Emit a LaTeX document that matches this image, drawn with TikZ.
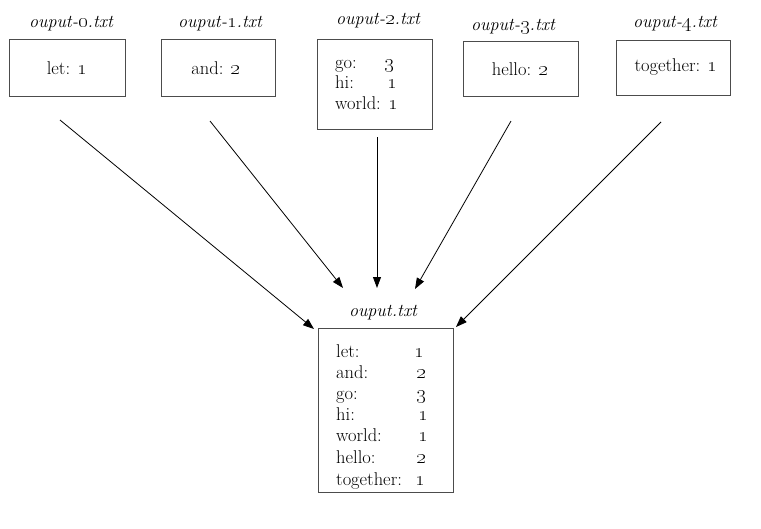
\documentclass[tikz,border=0pt]{standalone}
\usetikzlibrary{arrows.meta}
\newcommand{\osn}[1]{{\fontsize{22}{22}\selectfont\oldstylenums{#1}}}
\newcommand{\tosn}[1]{{\fontsize{20}{20}\selectfont\oldstylenums{#1}}}
\begin{document}
\begin{tikzpicture}[x=1pt,y=-1pt,
  filebox/.style={draw=black!70,line width=0.9pt},
  ttl/.style={font=\fontsize{18}{21}\selectfont\itshape,inner sep=0pt},
  txt/.style={font=\fontsize{18.5}{22}\selectfont,inner sep=0pt,anchor=base west},
  ctxt/.style={font=\fontsize{18.5}{22}\selectfont,inner sep=0pt},
  arr/.style={-{Triangle[length=11pt,width=8pt]},line width=0.8pt}]
\useasboundingbox (0,0) rectangle (761,528);
% top boxes
\draw[filebox] (9,39) rectangle (125,96);
\node[ttl] (t0) at (71,24) {ouput-\tosn{0}.txt};
\node[ctxt] (c0) at (67,68) {let: \osn{1}};
\draw[filebox] (161,39) rectangle (275,96);
\node[ttl] (t1) at (220,24) {ouput-\tosn{1}.txt};
\node[ctxt] (c1) at (216,68) {and: \osn{2}};
\draw[filebox] (317,39) rectangle (432,129);
\node[ttl] (t2) at (378,21) {ouput-\tosn{2}.txt};
\node[txt] (g2) at (335,68) {go:};
\node[txt] (g2n) at (384,68) {\osn{3}};
\node[txt] (h2) at (335,88) {hi:};
\node[txt] (h2n) at (387,88) {\osn{1}};
\node[txt] (w2) at (335,109) {world: \osn{1}};
\draw[filebox] (463,41) rectangle (578,96);
\node[ttl] (t3) at (513,27) {ouput-\tosn{3}.txt};
\node[ctxt] (c3) at (520,69) {hello: \osn{2}};
\draw[filebox] (616,40) rectangle (730,95);
\node[ttl] (t4) at (675,24) {ouput-\tosn{4}.txt};
\node[ctxt] (c4) at (676,67) {together: \osn{1}};
% output box
\draw[filebox] (318,328) rectangle (453,492);
\node[ttl] (to) at (383,313) {ouput.txt};
\node[txt] (l1) at (336,357) {let:};   \node[txt] (n1) at (414,357) {\osn{1}};
\node[txt] (l2) at (336,378) {and:};   \node[txt] (n2) at (416,378) {\osn{2}};
\node[txt] (l3) at (336,399) {go:};    \node[txt] (n3) at (416,399) {\osn{3}};
\node[txt] (l4) at (336,420) {hi:};    \node[txt] (n4) at (418,420) {\osn{1}};
\node[txt] (l5) at (336,441) {world:}; \node[txt] (n5) at (418,441) {\osn{1}};
\node[txt] (l6) at (336,463) {hello:}; \node[txt] (n6) at (416,463) {\osn{2}};
\node[txt] (l7) at (336,485) {together:}; \node[txt] (n7) at (415,485) {\osn{1}};
% arrows
\coordinate (s0) at (60,120);  \coordinate (e0) at (314,329);
\coordinate (s1) at (210,121); \coordinate (e1) at (343,288);
\coordinate (s2) at (377,137); \coordinate (e2) at (377,288);
\coordinate (s3) at (511,121); \coordinate (e3) at (415,289);
\coordinate (s4) at (661,122); \coordinate (e4) at (456,327);
\draw[arr] (s0) -- (e0);
\draw[arr] (s1) -- (e1);
\draw[arr] (s2) -- (e2);
\draw[arr] (s3) -- (e3);
\draw[arr] (s4) -- (e4);
\end{tikzpicture}
\end{document}
